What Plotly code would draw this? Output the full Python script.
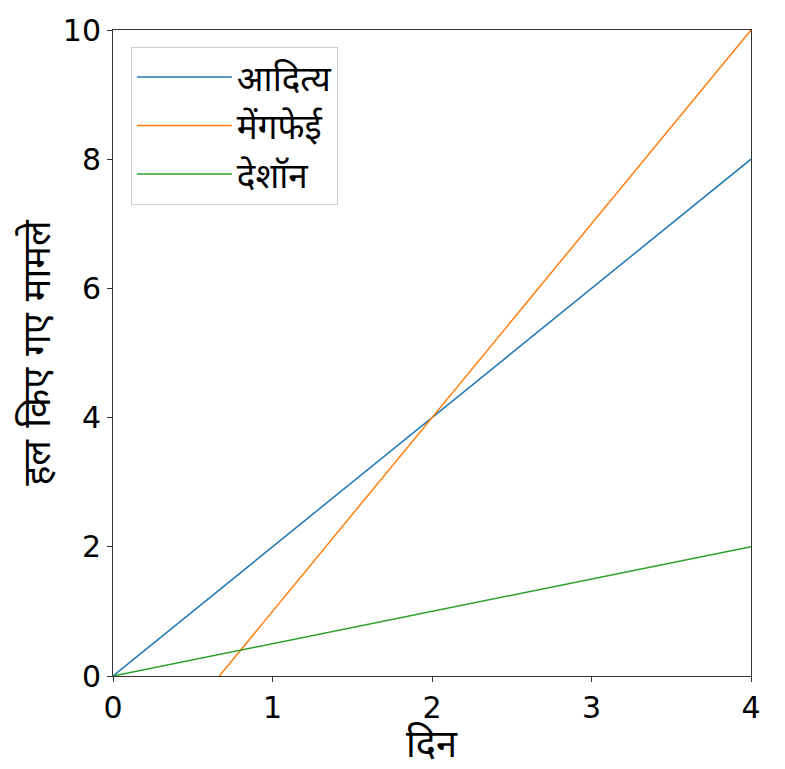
import plotly.graph_objects as go

days = [0, 1, 2, 3, 4]
aditya = [0, 2, 4, 6, 8]
mengfei = [-2, 1, 4, 7, 10]
deshawn = [0, 0.5, 1, 1.5, 2]
names = ["आदित्य", "मेंगफेई", "देशॉन"]
colors = ["#1f77b4", "#ff7f0e", "#2ca02c"]
x_title = "दिन"
y_title = "हल किए गए मामले"

FONT = "DejaVu Sans, Noto Sans, Noto Sans Devanagari"

fig = go.Figure()
for name, ys, c in zip(names, [aditya, mengfei, deshawn], colors):
    fig.add_trace(go.Scatter(x=days, y=ys, mode="lines", name=name,
                             line=dict(color=c, width=1.5)))

axis_common = dict(showgrid=False, zeroline=False, showline=True, linecolor="#333",
                   linewidth=1, mirror=True, tickcolor="#333", ticks="outside", ticklen=5,
                   tickfont=dict(size=30, color="black", family=FONT), automargin=False)
fig.update_xaxes(range=[0, 4], dtick=1, **axis_common)
fig.update_yaxes(range=[0, 10], dtick=2,
                 title=dict(text=y_title, font=dict(size=38, family=FONT, color="black"), standoff=0),
                 **axis_common)
fig.add_annotation(text=x_title, xref="paper", yref="paper", x=0.5, y=0,
                   xanchor="center", yanchor="top", yshift=-44, showarrow=False,
                   font=dict(size=38, family=FONT, color="black"))
fig.update_layout(
    width=785, height=769, autosize=False,
    margin=dict(l=113, r=34, t=30, b=93, autoexpand=False),
    plot_bgcolor="white", paper_bgcolor="white",
    font=dict(family=FONT, color="black"),
    legend=dict(x=0.028, y=0.974, xanchor="left", yanchor="top",
                bgcolor="rgba(255,255,255,0.8)", bordercolor="#ccc", borderwidth=1,
                font=dict(size=35, family=FONT, color="black"), itemwidth=95,
                tracegroupgap=0),
    showlegend=True,
)
fig.write_html("out.html", config={"displayModeBar": False},
               post_script="document.body.style.margin='0';document.body.style.overflow='hidden';")
